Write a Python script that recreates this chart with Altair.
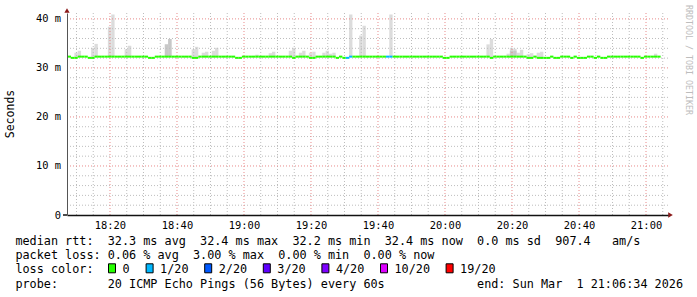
import altair as alt
import pandas as pd

# ---------------- time frame (minutes after 18:00) ----------------
T_START = 7 + 10 / 60        # 18:07:10
T_END = 186 + 34 / 60        # 21:06:34
BIN_ORIGIN = T_START - 0.8   # start of the first one-minute bin
Y_MAX = 41.2                 # ms at top of the plot

# ---------------- data ----------------
# median rtt (ms) for each one-minute bin, bin k starts at BIN_ORIGIN + k
MEDIAN_MS = [
    32.3, 32.3, 32.05, 32.05, 32.3, 32.3, 32.3, 32.05, 32.05, 32.3,
    32.3, 32.3, 32.3, 32.3, 32.3, 32.3, 32.3, 32.3, 32.3, 32.3,
    32.3, 32.3, 32.3, 32.3, 32.3, 32.05, 32.05, 32.3, 32.3, 32.3,
    32.3, 32.3, 32.3, 32.3, 32.3, 32.3, 32.3, 32.3, 32.05, 32.05,
    32.3, 32.3, 32.3, 32.3, 32.3, 32.3, 32.3, 32.3, 32.3, 32.3,
    32.3, 32.05, 32.05, 32.3, 32.3, 32.3, 32.3, 32.3, 32.3, 32.3,
    32.3, 32.3, 32.3, 32.3, 32.3, 32.3, 32.3, 32.3, 32.05, 32.3,
    32.3, 32.3, 32.3, 32.05, 32.05, 32.3, 32.3, 32.3, 32.3, 32.3,
    32.3, 32.05, 32.3, 32.05, 32.05, 32.3, 32.3, 32.3, 32.3, 32.3,
    32.3, 32.3, 32.3, 32.3, 32.3, 32.3, 32.3, 32.3, 32.3, 32.3,
    32.3, 32.3, 32.3, 32.3, 32.3, 32.3, 32.3, 32.3, 32.3, 32.3,
    32.3, 32.3, 32.3, 32.05, 32.05, 32.3, 32.3, 32.3, 32.3, 32.3,
    32.3, 32.3, 32.3, 32.3, 32.3, 32.3, 32.3, 32.05, 32.3, 32.3,
    32.3, 32.3, 32.3, 32.3, 32.3, 32.3, 32.3, 32.3, 32.05, 32.05,
    32.3, 32.05, 32.05, 32.05, 32.05, 32.3, 32.05, 32.05, 32.3, 32.3,
    32.3, 32.05, 32.3, 32.05, 32.05, 32.05, 32.3, 32.3, 32.05, 32.3,
    32.05, 32.05, 32.3, 32.3, 32.3, 32.3, 32.3, 32.3, 32.3, 32.3,
    32.3, 32.3, 32.05, 32.3, 32.3, 32.3, 32.3, 32.3,
]
# bins with lost pings (count of 20)
LOSS_BINS = [84, 85, 96, 97]
LOSS_COUNT = [1, 1, 1, 1]

# smoke: highest ping of the bin
SMOKE_BIN = [3, 4, 8, 9, 13, 14, 18, 19, 30, 31, 38, 39, 41, 42, 44, 45, 57,
             61, 62, 67, 68, 70, 71, 73, 74, 77, 78, 79, 80, 85, 88, 89, 97,
             126, 127, 132, 133, 134, 135, 136, 138, 139, 141, 142, 176]
SMOKE_TOP = [33.1, 33.5, 34.1, 34.9, 38.4, 40.9, 33.8, 34.5, 34.8, 35.9, 33.8,
             34.3, 33.1, 33.3, 33.5, 34.1, 32.7, 33.0, 33.3, 33.5, 34.1, 33.1,
             33.5, 33.1, 33.3, 33.1, 33.5, 32.9, 33.1, 40.9, 36.6, 38.6, 40.9,
             34.8, 35.9, 32.9, 34.1, 33.9, 33.1, 33.7, 32.8, 33.0, 33.1, 33.3,
             32.9]
# denser part of the smoke
SMOKE_DARK_BIN = [30, 31, 133, 134]
SMOKE_DARK_TOP = [34.8, 35.9, 33.5, 33.5]

LOSS_LABELS = ["0", "1/20", "2/20", "3/20", "4/20", "10/20", "19/20"]
LOSS_STEPS = [0, 1, 2, 3, 4, 10, 19]
LOSS_COLORS = ["#26ff00", "#00b8ff", "#0059ff", "#5e00ff", "#7e00ff",
               "#dd00ff", "#ff0000"]

X_TICKS = [20, 40, 60, 80, 100, 120, 140, 160, 180]
Y_TICKS = [0, 10, 20, 30, 40]

LINE1 = "median rtt:  32.3 ms avg  32.4 ms max  32.2 ms min  32.4 ms now  0.0 ms sd  907.4   am/s"
LINE2 = "packet loss: 0.06 % avg  3.00 % max  0.00 % min  0.00 % now"
LINE3 = "loss color:"
LINE4 = "probe:       20 ICMP Echo Pings (56 Bytes) every 60s"
END_TEXT = "end: Sun Mar  1 21:06:34 2026"
Y_TITLE = "Seconds"
WATERMARK = "RRDTOOL / TOBI OETIKER"

# ---------------- layout ----------------
W, H = 601, 202
PAD_L, PAD_T = 67, 13
MONO = "DejaVu Sans Mono"
NB = "\u00a0"


def nb(s):
    return s.replace(" ", NB)


loss_of = dict(zip(LOSS_BINS, LOSS_COUNT))
med = pd.DataFrame({
    "t0": [BIN_ORIGIN + k for k in range(len(MEDIAN_MS))],
    "t1": [BIN_ORIGIN + k + 1 for k in range(len(MEDIAN_MS))],
    "ms": MEDIAN_MS,
    "loss": [loss_of.get(k, 0) for k in range(len(MEDIAN_MS))],
})
smoke = pd.DataFrame({
    "t0": [BIN_ORIGIN + k for k in SMOKE_BIN],
    "t1": [BIN_ORIGIN + k + 1 for k in SMOKE_BIN],
    "base": [MEDIAN_MS[k] for k in SMOKE_BIN],
    "top": SMOKE_TOP,
})
smoke_dark = pd.DataFrame({
    "t0": [BIN_ORIGIN + k for k in SMOKE_DARK_BIN],
    "t1": [BIN_ORIGIN + k + 1 for k in SMOKE_DARK_BIN],
    "base": [MEDIAN_MS[k] for k in SMOKE_DARK_BIN],
    "top": SMOKE_DARK_TOP,
})

minor_x = pd.DataFrame({"v": [m for m in range(10, 186, 5) if m % 20 != 0]})
major_x = pd.DataFrame({"v": X_TICKS})
minor_y = pd.DataFrame({"v": [m for m in range(2, 41, 2) if m % 10 != 0]})
major_y = pd.DataFrame({"v": Y_TICKS[1:]})

XS = alt.Scale(domain=[T_START, T_END], nice=False, zero=False)
YS = alt.Scale(domain=[0, Y_MAX], nice=False)

XAX = alt.Axis(values=X_TICKS, grid=False, ticks=False, title=None,
               labelExpr="(18 + floor(datum.value / 60)) + ':' + format(datum.value % 60, '02d')",
               labelFont=MONO, labelFontSize=10.4, labelColor="#000",
               labelPadding=5.5, labelFlush=False, labelOverlap=False,
               domainColor="#111", domainWidth=1.5, zindex=1)
YAX = alt.Axis(values=Y_TICKS, grid=False, ticks=False, title=None,
               labelExpr="datum.value == 0 ? '0" + NB + NB + "' : datum.value + ' m'",
               labelFont=MONO, labelFontSize=10.4, labelColor="#000",
               labelPadding=6.5, labelFlush=False, labelOverlap=False,
               domainColor="#555", domainWidth=1, zindex=1)


def X(f):
    return alt.X(f, type="quantitative", scale=XS, axis=XAX)


def Y(f):
    return alt.Y(f, type="quantitative", scale=YS, axis=YAX)


layers = []
layers.append(alt.Chart(smoke).mark_rect(color="#dcdcdc", clip=True).encode(
    x=X("t0"), x2="t1", y=Y("base"), y2="top"))
layers.append(alt.Chart(smoke_dark).mark_rect(color="#c8c8c8", clip=True).encode(
    x=X("t0"), x2="t1", y=Y("base"), y2="top"))
layers.append(alt.Chart(minor_x).mark_rule(color="#bdbdbd", strokeDash=[1, 2], strokeWidth=1).encode(x=X("v")))
layers.append(alt.Chart(minor_y).mark_rule(color="#bdbdbd", strokeDash=[1, 2], strokeWidth=1).encode(y=Y("v")))
layers.append(alt.Chart(major_x).mark_rule(color="#e88a8a", strokeDash=[1, 2], strokeWidth=1).encode(x=X("v")))
layers.append(alt.Chart(major_y).mark_rule(color="#e88a8a", strokeDash=[1, 2], strokeWidth=1).encode(y=Y("v")))
layers.append(alt.Chart(med).mark_rule(strokeWidth=2, clip=True).encode(
    x=X("t0"), x2="t1", y=Y("ms"),
    color=alt.Color("loss:O", scale=alt.Scale(domain=LOSS_STEPS, range=LOSS_COLORS), legend=None)))

ONE = pd.DataFrame({"a": [0]})


def txt(s, px, py, size=11.8, align="left", baseline="alphabetic", angle=0, color="#000"):
    kw = dict(font=MONO, fontSize=size, align=align, baseline=baseline, color=color)
    if angle:
        kw["angle"] = angle
    return alt.Chart(ONE).mark_text(**kw).encode(
        x=alt.value(px - PAD_L), y=alt.value(py - PAD_T), text=alt.value(nb(s)))


# axis arrows and x-axis stub
layers.append(alt.Chart(ONE).mark_rule(color="#111", strokeWidth=1.5).encode(
    x=alt.value(-4), x2=alt.value(0), y=alt.value(H)))
layers.append(alt.Chart(ONE).mark_point(shape="triangle-up", filled=True, size=28, opacity=1,
                                        color="#8b1a1a").encode(x=alt.value(0), y=alt.value(-2.5)))
layers.append(alt.Chart(ONE).mark_point(shape="triangle-right", filled=True, size=28, opacity=1,
                                        color="#8b1a1a").encode(x=alt.value(W + 2.5), y=alt.value(H)))

# titles
layers.append(txt(Y_TITLE, 11, 114, size=11.5, align="center", baseline="middle", angle=270))
layers.append(txt(WATERMARK, 687.5, 60, size=8.3, align="center", baseline="middle", angle=90, color="#bdbdbd"))

# legend text
X_TEXT = 15.4
BASE = 245.2
STEP = 14.1
layers.append(txt(LINE1, X_TEXT, BASE))
layers.append(txt(LINE2, X_TEXT, BASE + STEP))
layers.append(txt(LINE3, X_TEXT, BASE + 2 * STEP))
layers.append(txt(LINE4, X_TEXT, BASE + 3 * STEP))
layers.append(txt(END_TEXT, 683, BASE + 3 * STEP, align="right"))

sq = 108.0
for lab, col in zip(LOSS_LABELS, LOSS_COLORS):
    layers.append(alt.Chart(ONE).mark_rect(color=col, stroke="#000", strokeWidth=1).encode(
        x=alt.value(sq + 0.5 - PAD_L), x2=alt.value(sq + 7.5 - PAD_L),
        y=alt.value(263.8 - PAD_T), y2=alt.value(272.8 - PAD_T)))
    layers.append(txt(lab, sq + 14.5, BASE + 2 * STEP))
    sq += 7.0 * len(lab) + 30.6

chart = alt.layer(*layers).properties(
    width=W, height=H,
    padding={"left": PAD_L, "top": PAD_T, "right": 697 - PAD_L - W, "bottom": 297 - PAD_T - H},
    autosize=alt.AutoSizeParams(type="none"),
    background="white",
).configure_view(stroke=None)

chart.save("out.html", embed_options={"renderer": "svg", "actions": False})
